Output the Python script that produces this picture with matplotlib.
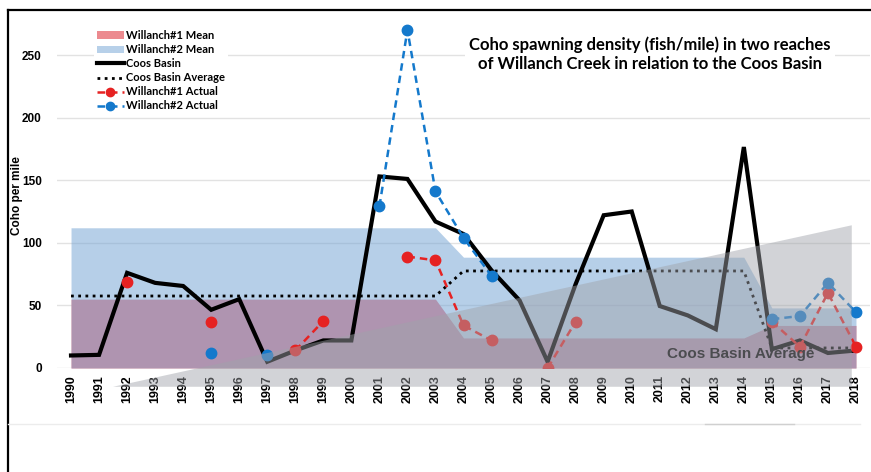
import numpy as np
import matplotlib
matplotlib.use("Agg")
import matplotlib.pyplot as plt
from matplotlib.lines import Line2D
from matplotlib.patches import Patch, Polygon

# data
years = list(range(1990, 2019))
coos_basin = [10, 10.5, 76, 68, 65.5, 46.5, 55, 5, 14, 22, 22, 153, 151, 117, 107,
              78, 54, 5, 67, 122, 125, 49.5, 42, 31, 176.5, 15, 22, 12, 14]
coos_avg = [57.5] * 14 + [77.5] * 11 + [16] * 4
w1_mean = [55] * 14 + [24] * 11 + [34] * 4
w2_mean = [112] * 14 + [88.5] * 11 + [48] * 4
nan = np.nan
w1_actual = [nan, nan, 69, nan, nan, 37, nan, nan, 14, 37.5, nan, nan, 89, 86, 34,
             22, nan, 0, 37, nan, nan, nan, nan, nan, nan, 37, 17, 60, 17]
w2_actual = [nan, nan, nan, nan, nan, 12, nan, 10, nan, nan, nan, 129, 270, 141, 104,
             73.5, nan, nan, nan, nan, nan, nan, nan, nan, nan, 39, 41.5, 68, 44.5]
# grey wedge pasted over the chart (year, value)
wedge_x = [1991.5, 2017.85, 2017.85]
wedge_y = [-15, 114, -15]

fig = plt.figure(figsize=(8.71, 4.72), dpi=100)
ax = fig.add_axes([57 / 871, 1 - 368 / 472, 813 / 871, (368 - 23.7) / 472])

ax.fill_between(years, 0, w1_mean, color='#f0878d', lw=0, zorder=1)
ax.fill_between(years, 0, w2_mean, color='#6fa1d3', alpha=0.5, lw=0, zorder=1.1)

ax.plot(years, coos_avg, color='black', lw=2, ls=(0, (1, 1.6)), zorder=1.5)
ax.plot(years, coos_basin, color='black', lw=3, solid_joinstyle='miter', zorder=1.6)
ax.plot(years, w1_actual, color='#e62222', lw=1.8, ls=(0, (3, 2)), marker='o', ms=7.5, zorder=1.7)
ax.plot(years, w2_actual, color='#1479cc', lw=1.8, ls=(0, (3, 2)), marker='o', ms=7.5, zorder=1.8)

ax.text(2013.9, 11, 'Coos Basin Average', ha='center', va='center', fontsize=11,
        fontweight='bold', family='Liberation Sans', color='black', zorder=2.2)

ax.add_patch(Polygon(list(zip(wedge_x, wedge_y)), closed=True, facecolor='#a0a3aa',
                     alpha=0.47, lw=0, zorder=2.45, clip_on=False))

ax.set_xlim(1989.5, 2018.5)
ax.set_ylim(0, 275)
ax.set_xticks(years)
ax.set_xticklabels([str(y) for y in years], rotation=90, fontsize=9, fontweight='bold',
                   family='Liberation Sans')
ax.set_yticks([0, 50, 100, 150, 200, 250])
ax.set_yticklabels(['0', '50', '100', '150', '200', '250'], fontsize=8.5, fontweight='bold',
                   family='Liberation Sans')
ax.tick_params(axis='x', length=0, pad=5)
ax.tick_params(axis='y', length=0, pad=11)
ax.grid(axis='y', color='#e2e2e2', lw=1)
ax.set_axisbelow(True)
for s in ax.spines.values():
    s.set_visible(False)
ax.set_ylabel('Coho per mile', fontsize=8.5, fontweight='bold', family='Liberation Sans')
ax.yaxis.set_label_coords(-34 / 813, 0.5)

handles = [
    Patch(facecolor='#ec8a8f', edgecolor='none'),
    Patch(facecolor='#b7d0e9', edgecolor='none'),
    Line2D([], [], color='black', lw=3),
    Line2D([], [], color='black', lw=2, ls=(0, (1, 1.6))),
    Line2D([], [], color='#e62222', lw=1.8, ls=(0, (3, 2)), marker='o', ms=6),
    Line2D([], [], color='#1479cc', lw=1.8, ls=(0, (3, 2)), marker='o', ms=6),
]
labels = ['Willanch#1 Mean', 'Willanch#2 Mean', 'Coos Basin', 'Coos Basin Average',
          'Willanch#1 Actual', 'Willanch#2 Actual']
leg = ax.legend(handles, labels, loc='upper left', bbox_to_anchor=(88 / 871, 1 - 21 / 472),
                bbox_transform=fig.transFigure, frameon=True, facecolor='white',
                edgecolor='none', framealpha=1, fancybox=False, handlelength=2.4,
                handleheight=0.6, handletextpad=0.2, labelspacing=0.28, borderpad=0.3,
                prop={'family': 'Lato', 'weight': 'bold', 'size': 8})
leg.set_zorder(5)

fig.text(650 / 871, 1 - 54 / 472,
         'Coho spawning density (fish/mile) in two reaches\nof Willanch Creek in relation to the Coos Basin',
         ha='center', va='center', fontsize=12, fontweight='bold', family='Lato',
         linespacing=1.2, bbox=dict(facecolor='white', edgecolor='none', pad=3))

# frame bits of the original picture
fig.add_artist(Line2D([8 / 871, 1], [1 - 10 / 472] * 2, color='black', lw=1.6))
fig.add_artist(Line2D([8 / 871] * 2, [0, 1 - 10 / 472], color='black', lw=1.6))
fig.add_artist(Line2D([8 / 871, 860 / 871], [1 - 424 / 472] * 2, color='#ececec', lw=1))
fig.add_artist(Line2D([705 / 871, 794 / 871], [1 - 424 / 472] * 2, color='#d0d0d0', lw=1))

fig.savefig('out.png', dpi=100)
